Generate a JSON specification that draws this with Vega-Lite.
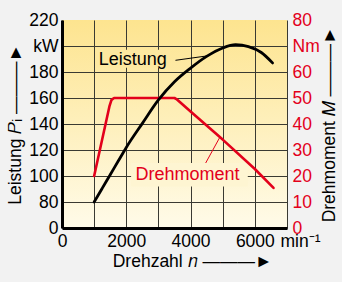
{
  "$schema": "https://vega.github.io/schema/vega-lite/v6.json",
  "autosize": "none",
  "width": 225,
  "height": 208,
  "padding": {"left": 62, "top": 20, "right": 55, "bottom": 54},
  "background": "#f2f2f2",
  "config": {
    "view": {"stroke": null, "fill": {"gradient": "linear", "x1": 0, "y1": 0, "x2": 0, "y2": 1, "stops": [{"offset": 0, "color": "#fde48f"}, {"offset": 1, "color": "#fffbe9"}]}},
    "font": "Liberation Sans",
    "axis": {"labelFont": "Liberation Sans", "titleFont": "Liberation Sans", "labelFontSize": 17.5, "titleFontSize": 17.5, "titleFontWeight": "normal", "labelColor": "#000", "titleColor": "#000", "ticks": false}
  },
  "datasets": {
    "power": [
      {"n": 1000, "P": 80}, {"n": 1250, "P": 90.5}, {"n": 1500, "P": 101}, {"n": 1750, "P": 111.5},
      {"n": 2000, "P": 122}, {"n": 2500, "P": 140.5}, {"n": 3000, "P": 158.5}, {"n": 3500, "P": 172.5},
      {"n": 4000, "P": 183}, {"n": 4500, "P": 192}, {"n": 5000, "P": 198.5}, {"n": 5400, "P": 201},
      {"n": 5800, "P": 199.5}, {"n": 6200, "P": 195}, {"n": 6550, "P": 187}
    ],
    "torque": [
      {"n": 1000, "M": 20}, {"n": 1480, "M": 47}, {"n": 1540, "M": 49.3}, {"n": 1620, "M": 50},
      {"n": 3500, "M": 50}, {"n": 3560, "M": 49.6}, {"n": 4000, "M": 44.8}, {"n": 5000, "M": 34},
      {"n": 6000, "M": 22.7}, {"n": 6580, "M": 15.4}
    ],
    "boxes": [
      {"label": "Leistung", "n": 1060, "n2": 3370, "M": 61.6, "M2": 68.6},
      {"label": "Drehmoment", "n": 2150, "n2": 5780, "M": 16, "M2": 25}
    ],
    "torqueLabel": [{"label": "Drehmoment", "n": 3906, "M": 20.5}],
    "torqueLeader": [{"n": 4470, "M": 25, "n2": 4915, "M2": 35}],
    "powerLabel": [{"label": "Leistung", "n": 2200, "P": 189.4}],
    "powerLeader": [{"n": 3530, "P": 189, "n2": 4520, "P2": 192.4}]
  },
  "encoding": {
    "x": {
      "field": "n", "type": "quantitative",
      "scale": {"domain": [0, 7000], "nice": false},
      "axis": {
        "values": [0, 1000, 2000, 3000, 4000, 5000, 6000, 7000],
        "labelExpr": "datum.value == 7000 ? 'min⁻¹' : (datum.value % 2000 == 0 ? '' + datum.value : '')",
        "labelFlush": false,
        "labelPadding": 4,
        "labelOffset": {"condition": {"test": "datum.value == 7000", "value": 13}, "value": 0},
        "domainColor": "#000", "domainWidth": 3,
        "grid": true, "gridColor": "#3a3a32", "gridWidth": 1,
        "title": "Drehzahl 𝑛 ———►",
        "titleX": 130,
        "titlePadding": 3
      }
    }
  },
  "layer": [
    {
      "encoding": {
        "y": {
          "field": "M", "type": "quantitative",
          "scale": {"domain": [0, 80], "nice": false},
          "axis": {
            "orient": "right",
            "values": [0, 10, 20, 30, 40, 50, 60, 70, 80],
            "labelExpr": "datum.value == 70 ? 'Nm' : datum.label",
            "labelColor": "#e3001b",
            "labelPadding": 5,
            "domain": false,
            "grid": false,
            "title": "Drehmoment 𝑀 ———►",
            "titleAngle": -90,
            "titleX": 42,
            "titleBaseline": "middle"
          }
        }
      },
      "layer": [
        {
          "data": {"name": "boxes"},
          "mark": {"type": "rect"},
          "encoding": {
            "x2": {"field": "n2"},
            "y2": {"field": "M2"},
            "color": {"field": "label", "type": "nominal", "scale": {"domain": ["Leistung", "Drehmoment"], "range": ["#fde8a0", "#fef5d2"]}, "legend": null}
          }
        },
        {
          "data": {"name": "torque"},
          "mark": {"type": "line", "color": "#e3001b", "strokeWidth": 2.6, "strokeCap": "round", "strokeJoin": "round"},
          "encoding": {}
        },
        {
          "data": {"name": "torqueLeader"},
          "mark": {"type": "rule", "color": "#e3001b", "strokeWidth": 1},
          "encoding": {"x2": {"field": "n2"}, "y2": {"field": "M2"}}
        },
        {
          "data": {"name": "torqueLabel"},
          "mark": {"type": "text", "color": "#e3001b", "fontSize": 18, "font": "Liberation Sans", "align": "center", "baseline": "middle"},
          "encoding": {"text": {"field": "label"}}
        }
      ]
    },
    {
      "encoding": {
        "y": {
          "field": "P", "type": "quantitative",
          "scale": {"domain": [60, 220], "nice": false},
          "axis": {
            "orient": "left",
            "values": [60, 80, 100, 120, 140, 160, 180, 200, 220],
            "labelExpr": "datum.value == 60 ? '0' : datum.value == 200 ? 'kW' : datum.label",
            "labelPadding": 4,
            "domainColor": "#000", "domainWidth": 3,
            "grid": true,
            "gridColor": {"condition": {"test": "datum.value == 220", "value": "transparent"}, "value": "#3a3a32"},
            "gridWidth": 1,
            "title": "Leistung 𝑃ᵢ ———►",
            "titleX": -47,
            "titleBaseline": "middle"
          }
        }
      },
      "layer": [
        {
          "data": {"name": "power"},
          "mark": {"type": "line", "color": "#000", "strokeWidth": 2.8, "interpolate": "monotone", "strokeCap": "round"},
          "encoding": {}
        },
        {
          "data": {"name": "powerLeader"},
          "mark": {"type": "rule", "color": "#000", "strokeWidth": 1},
          "encoding": {"x2": {"field": "n2"}, "y2": {"field": "P2"}}
        },
        {
          "data": {"name": "powerLabel"},
          "mark": {"type": "text", "color": "#000", "fontSize": 18, "font": "Liberation Sans", "align": "center", "baseline": "middle"},
          "encoding": {"text": {"field": "label"}}
        }
      ]
    }
  ],
  "resolve": {"scale": {"y": "independent"}}
}
